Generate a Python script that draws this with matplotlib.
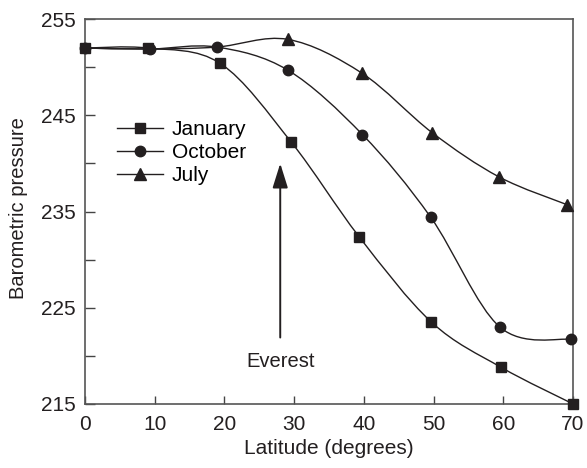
import numpy as np
import matplotlib
matplotlib.use("Agg")
import matplotlib.pyplot as plt
from matplotlib.path import Path
from matplotlib.patches import PathPatch
from matplotlib.ticker import MultipleLocator

plt.rcParams['font.family'] = ['Liberation Sans', 'DejaVu Sans']

# Barometric pressure vs latitude for three months
jan_lat = [0, 9, 19.4, 29.6, 39.3, 49.7, 59.7, 70]
jan_p = [252.0, 252.0, 250.4, 242.2, 232.4, 223.5, 218.8, 215.0]

oct_lat = [0, 9.3, 18.9, 29.1, 39.8, 49.6, 59.5, 69.7]
oct_p = [252.0, 251.9, 252.1, 249.7, 243.0, 234.4, 223.0, 221.7]

jul_lat = [0, 9.3, 18.9, 29.1, 39.7, 49.8, 59.4, 69.2]
jul_p = [252.0, 251.9, 252.1, 252.9, 249.4, 243.2, 238.6, 235.7]

everest_lat = 28.0
everest_tail = 221.9
everest_tip = 240.0

x_ticks = [0, 10, 20, 30, 40, 50, 60, 70]
y_ticks = [215, 225, 235, 245, 255]

INK = '#231f20'
FS = 15


def smooth_path(xs, ys):
    """Catmull-Rom curve through the points, built as cubic Bezier segments."""
    pts = np.column_stack([xs, ys]).astype(float)
    ext = np.vstack([pts[0], pts, pts[-1]])
    verts = [tuple(pts[0])]
    codes = [Path.MOVETO]
    for i in range(1, len(ext) - 2):
        p0, p1, p2, p3 = ext[i - 1], ext[i], ext[i + 1], ext[i + 2]
        c1 = p1 + (p2 - p0) / 6.0
        c2 = p2 - (p3 - p1) / 6.0
        verts += [tuple(c1), tuple(c2), tuple(p2)]
        codes += [Path.CURVE4] * 3
    return Path(verts, codes)


fig = plt.figure(figsize=(5.87, 4.68), dpi=100)
ax = fig.add_axes([0.145, 0.137, 0.831, 0.822])

series = [
    ('July', jul_lat, jul_p, '^', 8, 3),
    ('October', oct_lat, oct_p, 'o', 7.5, 0),
    ('January', jan_lat, jan_p, 's', 7, 0),
]
handles = {}
for z, (name, xs, ys, mk, ms, start) in enumerate(series):
    ax.add_patch(PathPatch(smooth_path(xs, ys), fill=False, edgecolor=INK,
                           linewidth=1.0, transform=ax.transData,
                           zorder=2 + z, clip_on=False))
    ax.plot(xs[start:], ys[start:], linestyle='none', marker=mk,
            markersize=ms, color=INK, zorder=5 + z, clip_on=False)
    handles[name] = plt.Line2D([], [], color=INK, linewidth=1.0,
                               marker=mk, markersize=ms)

ax.legend([handles['January'], handles['October'], handles['July']],
          ['January', 'October', 'July'],
          loc='upper left', bbox_to_anchor=(0.065, 0.738), frameon=False,
          fontsize=FS, handlelength=2.2, handletextpad=0.43,
          labelspacing=0.2, borderpad=0, borderaxespad=0)

ax.annotate('', xy=(everest_lat, everest_tip), xytext=(everest_lat, everest_tail),
            arrowprops=dict(arrowstyle='-|>,head_length=1.5,head_width=0.47',
                            color=INK, linewidth=1.4, shrinkA=0, shrinkB=0))
ax.text(everest_lat, 219.4, 'Everest', ha='center', va='center',
        fontsize=14.5, color=INK)

ax.set_xlim(0, 70)
ax.set_ylim(215, 255)
ax.set_xticks(x_ticks)
ax.set_yticks(y_ticks)
ax.yaxis.set_minor_locator(MultipleLocator(5))
ax.tick_params(axis='both', which='both', direction='in', top=False,
               right=False, color='#444444', labelsize=FS, labelcolor=INK)
ax.tick_params(axis='y', which='both', length=7, width=1.0, pad=6.5)
ax.tick_params(axis='x', which='major', length=6, width=1.0, pad=8)

for sp in ax.spines.values():
    sp.set_color('#555555')
    sp.set_linewidth(1.2)

ax.set_xlabel('Latitude (degrees)', fontsize=FS, color=INK, va='center')
ax.xaxis.set_label_coords(0.5, -0.116)
ax.set_ylabel('Barometric pressure', fontsize=14.5, color=INK, va='center')
ax.yaxis.set_label_coords(-0.137, 0.51)

fig.savefig('out.png', dpi=100)
